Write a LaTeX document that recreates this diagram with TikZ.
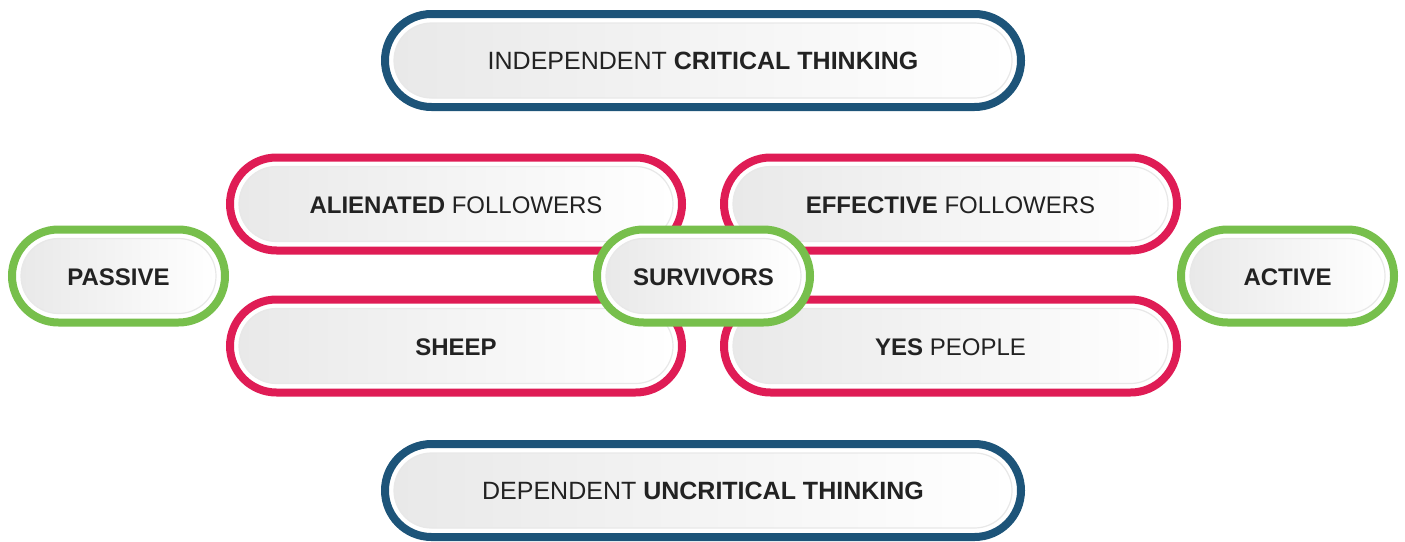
\documentclass[tikz,border=0pt]{standalone}
\usepackage{fontspec}
\setmainfont{Liberation Sans}
\definecolor{ringblue}{HTML}{1D5479}
\definecolor{ringpink}{HTML}{DF1C55}
\definecolor{ringgreen}{HTML}{77BF4C}
\definecolor{coregray}{HTML}{E9E9E9}
\definecolor{inkdark}{HTML}{222222}
\begin{document}
\begin{tikzpicture}[x=1pt,y=-1pt,
  ring/.style={draw=#1, line width=8pt, fill=white, rounded corners=46.5pt,
    minimum height=93pt, inner sep=0pt},
  core/.style={rounded corners=37.5pt, minimum height=75pt, inner sep=0pt,
    left color=coregray, right color=white, draw=black!9, line width=1.2pt,
    font=\fontsize{24}{28}\selectfont, text=inkdark, text height=19.5pt, text depth=0pt},
  axiscore/.style={core, font=\fontsize{25}{30}\selectfont, text height=18.4pt},
]
\useasboundingbox (0,0) rectangle (1405,541);

% thinking axis (blue)
\node[ring=ringblue, minimum width=636pt] (topring) at (703,60.5) {};
\node[axiscore, minimum width=618pt] (top) at (703,60.5) {INDEPENDENT \textbf{CRITICAL THINKING}};
\node[ring=ringblue, minimum width=636pt] (botring) at (703,490.5) {};
\node[axiscore, minimum width=618pt] (bottom) at (703,490.5) {DEPENDENT \textbf{UNCRITICAL THINKING}};

% follower types (pink)
\node[ring=ringpink, minimum width=452pt] (alienring) at (456,204) {};
\node[core, minimum width=434pt] (alienated) at (456,204) {\textbf{ALIENATED} FOLLOWERS};
\node[ring=ringpink, minimum width=453pt] (effring) at (950.5,204) {};
\node[core, minimum width=435pt] (effective) at (950.5,204) {\textbf{EFFECTIVE} FOLLOWERS};
\node[ring=ringpink, minimum width=452pt] (sheepring) at (456,346) {};
\node[core, minimum width=434pt] (sheep) at (456,346) {\textbf{SHEEP}};
\node[ring=ringpink, minimum width=453pt] (yesring) at (950.5,346) {};
\node[core, minimum width=435pt] (yes) at (950.5,346) {\textbf{YES} PEOPLE};

% activity axis (green)
\node[ring=ringgreen, minimum width=213pt] (passring) at (118.5,276) {};
\node[core, minimum width=195pt] (passive) at (118.5,276) {\textbf{PASSIVE}};
\node[ring=ringgreen, minimum width=213pt] (survring) at (703.5,276) {};
\node[core, minimum width=195pt] (survivors) at (703.5,276) {\textbf{SURVIVORS}};
\node[ring=ringgreen, minimum width=213pt] (actring) at (1287.5,276) {};
\node[core, minimum width=195pt] (active) at (1287.5,276) {\textbf{ACTIVE}};
\end{tikzpicture}
\end{document}
